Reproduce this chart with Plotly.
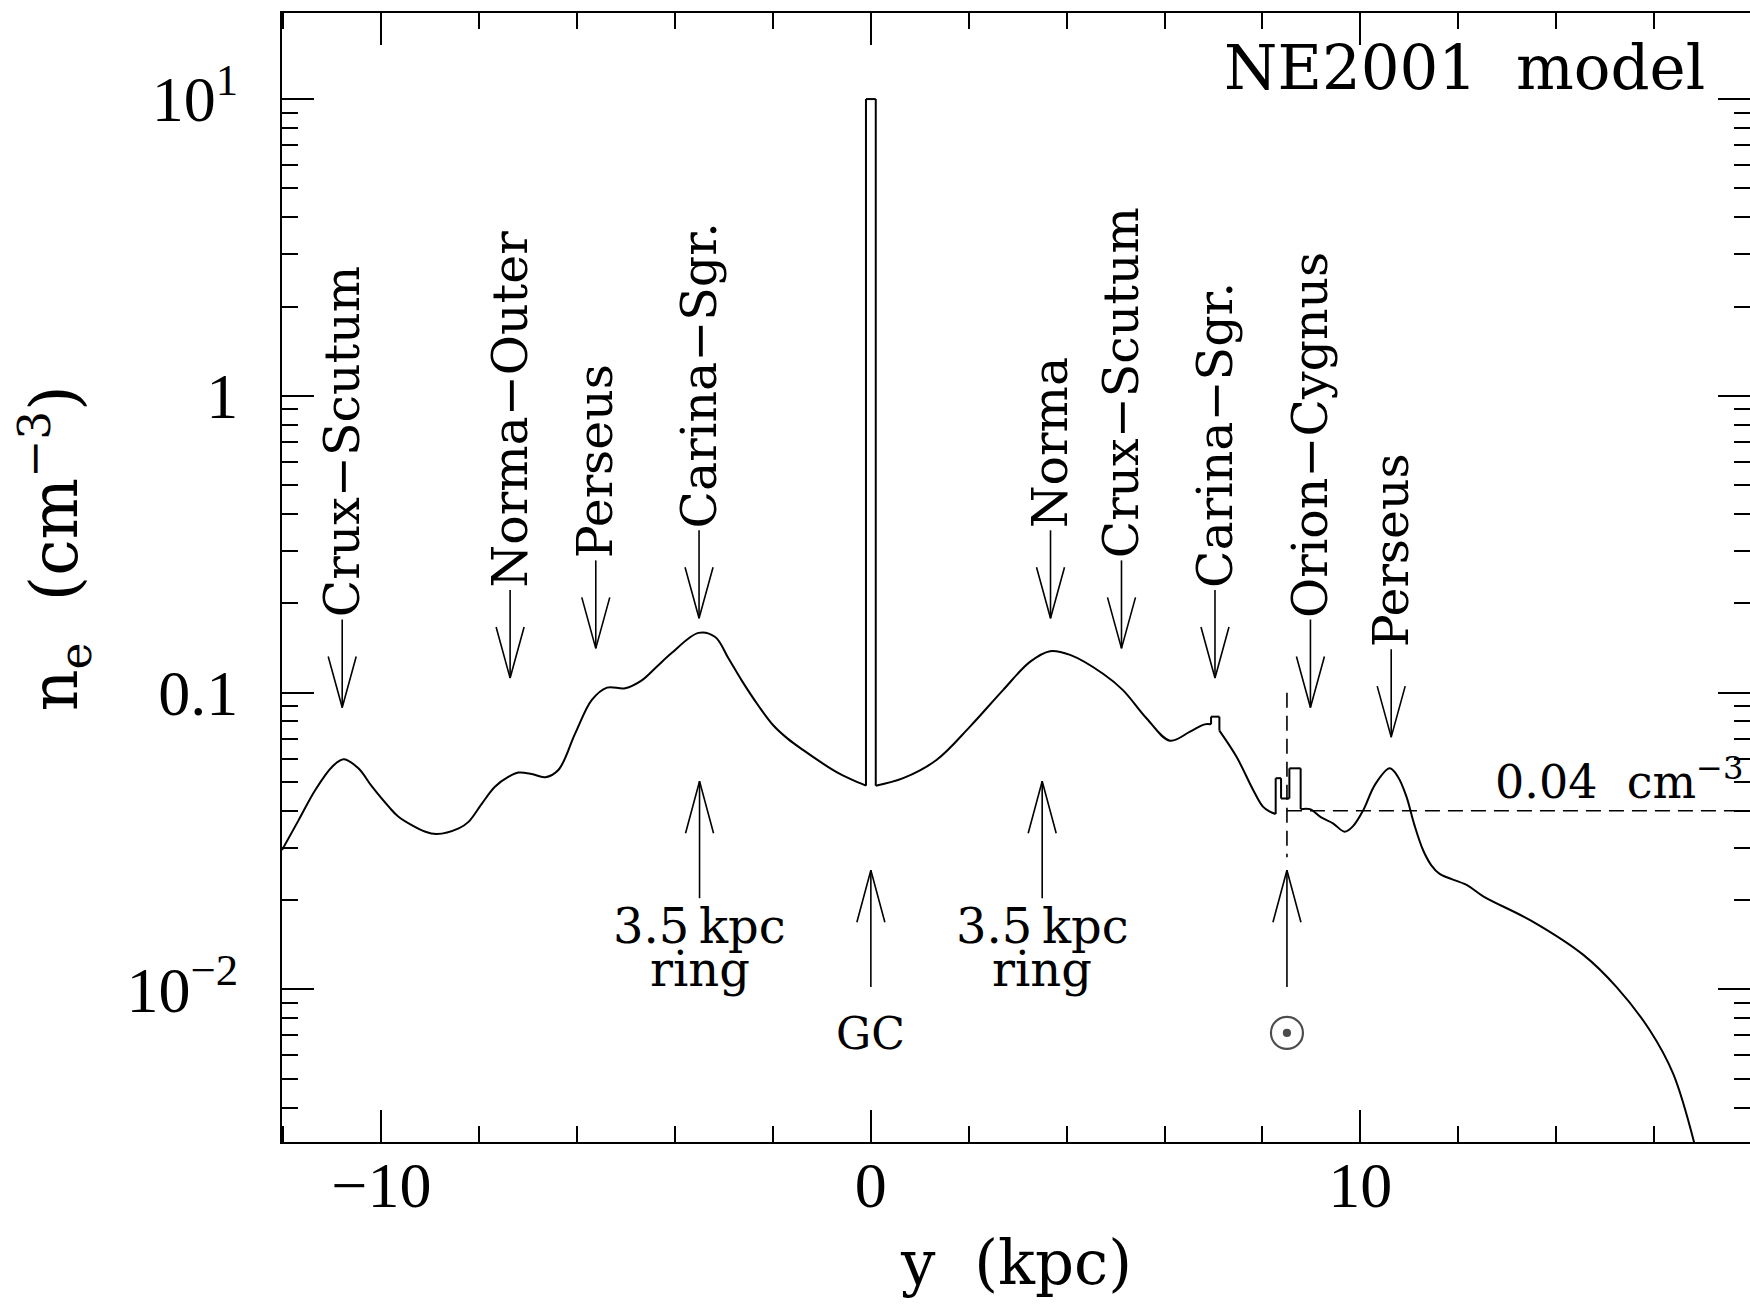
import math
import plotly.graph_objects as go

# ---------------------------------------------------------------------------
# NE2001 electron density along the y axis through the Galactic centre
# ---------------------------------------------------------------------------
y_kpc = [
    -12.03, -11.69, -11.35, -11.00, -10.77, -10.47, -10.19, -9.85, -9.65, -9.10,
    -8.87, -8.42, -8.22, -7.95, -7.68, -7.40, -7.20, -6.93, -6.65, -6.38,
    -6.04, -5.70, -5.39, -5.02, -4.68, -4.37, -4.07, -3.52, -3.18, -2.91,
    -2.64, -2.30, -2.00, -1.70, -1.38, -1.00, -0.70, -0.40, -0.10,
    -0.10, 0.10,
    0.10, 0.66, 1.34, 2.02, 2.70, 3.25, 3.66, 4.07, 4.75, 5.15,
    5.63, 6.11, 6.52, 6.82, 6.95,
    6.95, 7.12,
    7.12, 7.47, 7.81, 8.01, 8.15, 8.27,
    8.27, 8.38,
    8.38, 8.55,
    8.55, 8.78,
    8.78, 8.97, 9.20, 9.44, 9.68, 9.85, 10.06, 10.30, 10.60, 10.77,
    10.94, 11.10, 11.28, 11.45, 11.62, 12.17, 12.51, 13.53, 14.55, 15.23,
    15.91, 16.39, 16.83,
]
n_e = [
    0.0295, 0.0372, 0.0470, 0.0564, 0.0597, 0.0556, 0.0482, 0.0413, 0.0382, 0.0340,
    0.0334, 0.0349, 0.0367, 0.0422, 0.0482, 0.0521, 0.0538, 0.0532, 0.0519, 0.0550,
    0.0729, 0.0945, 0.1040, 0.1035, 0.1100, 0.1225, 0.1360, 0.1590, 0.1540, 0.1306,
    0.1100, 0.0905, 0.0778, 0.0700, 0.0640, 0.0580, 0.0540, 0.0510, 0.0486,
    10.0, 10.0,
    0.0486, 0.0515, 0.0593, 0.0767, 0.1020, 0.1270, 0.1380, 0.1340, 0.1156, 0.1020,
    0.0820, 0.0689, 0.0739, 0.0782, 0.0782,
    0.0830, 0.0830,
    0.0745, 0.0608, 0.0470, 0.0413, 0.0397, 0.0390,
    0.0515, 0.0515,
    0.0440, 0.0440,
    0.0556, 0.0556,
    0.0405, 0.0405, 0.0380, 0.0363, 0.0340, 0.0355, 0.0402, 0.0490, 0.0556, 0.0520,
    0.0447, 0.0360, 0.0295, 0.0262, 0.0245, 0.0225, 0.0206, 0.0169, 0.0131, 0.0102,
    0.0073, 0.0052, 0.0030,
]

# spiral arms crossed by the cut (arrow tips point at the density bumps)
arm_names = ["Crux\u2212Scutum", "Norma\u2212Outer", "Perseus", "Carina\u2212Sgr.",
             "Norma", "Crux\u2212Scutum", "Carina\u2212Sgr.", "Orion\u2212Cygnus", "Perseus"]
arm_y = [-10.80, -7.37, -5.62, -3.51, 3.67, 5.12, 7.03, 8.98, 10.63]
arm_tip = [0.0891, 0.112, 0.141, 0.178, 0.178, 0.141, 0.112, 0.0891, 0.0708]

# other landmarks: 3.5 kpc ring (both sides), Galactic centre, Sun
mark_y = [-3.5, 0.0, 3.5, 8.5]
mark_tip = [0.0503, 0.0252, 0.0503, 0.0252]
mark_base = [0.0203, 0.0102, 0.0203, 0.0102]

R_SUN = 8.5          # kpc
NE_LOCAL = 0.04      # cm^-3, local mean density
SUN_LINE_TOP = 0.1
SUN_LINE_BOTTOM = 0.0279

# axes
X_MIN, X_MAX = -12.03, 17.96
LOGY_MIN, LOGY_MAX = -2.514, 1.290
x_major = [-10, 0, 10]
x_major_text = ["\u221210", "0", "10"]
y_major = [0.01, 0.1, 1, 10]
y_major_text = ["10<sup>\u22122</sup>", "0.1", "1", "10<sup>1</sup>"]
decades = [0.001, 0.01, 0.1, 1, 10]

# ---------------------------------------------------------------------------
W, H = 1750, 1305
M_L, M_R, M_T, M_B = 282, 0, 13, 163
PLOT_W = W - M_L - M_R
PLOT_H = H - M_T - M_B
PX_PER_KPC = PLOT_W / (X_MAX - X_MIN)
PX_PER_DEX = PLOT_H / (LOGY_MAX - LOGY_MIN)

SERIF = "DejaVu Serif"
TICKFONT = "Liberation Serif"
BLACK = "#000000"


def dx(px):
    """horizontal pixel distance -> kpc"""
    return px / PX_PER_KPC


def up(v, px):
    """shift a density value by px pixels upward on the log axis"""
    return v * 10 ** (px / PX_PER_DEX)


fig = go.Figure()

# --- density curve: smooth runs drawn as splines, jumps as straight lines
runs, jumps = [], ([], [])
start = 0
for i in range(1, len(y_kpc)):
    if y_kpc[i] == y_kpc[i - 1]:
        runs.append((start, i))
        jumps[0].extend([y_kpc[i - 1], y_kpc[i], None])
        jumps[1].extend([n_e[i - 1], n_e[i], None])
        start = i
runs.append((start, len(y_kpc)))

for a, b in runs:
    fig.add_trace(go.Scatter(
        x=y_kpc[a:b], y=n_e[a:b], mode="lines",
        line=dict(color=BLACK, width=2, shape="spline", smoothing=1.0),
        hoverinfo="skip", showlegend=False))
fig.add_trace(go.Scatter(
    x=jumps[0], y=jumps[1], mode="lines",
    line=dict(color=BLACK, width=2), hoverinfo="skip", showlegend=False))

# --- reference lines for the Sun's position and the local density
fig.add_trace(go.Scatter(
    x=[R_SUN, R_SUN], y=[SUN_LINE_TOP, SUN_LINE_BOTTOM], mode="lines",
    line=dict(color=BLACK, width=1.6, dash="15px,8px"),
    hoverinfo="skip", showlegend=False))
fig.add_trace(go.Scatter(
    x=[R_SUN, X_MAX], y=[NE_LOCAL, NE_LOCAL], mode="lines",
    line=dict(color=BLACK, width=1.6, dash="15px,8px"),
    hoverinfo="skip", showlegend=False))

# --- arrows
ax_x, ax_y = [], []
for x, tip in zip(arm_y, arm_tip):
    top = up(tip, 88)
    wing = up(tip, 51)
    ax_x += [x, x, None, x - dx(14), x, x + dx(14), None]
    ax_y += [tip, top, None, wing, tip, wing, None]
for x, tip, base in zip(mark_y, mark_tip, mark_base):
    wing = up(tip, -52)
    ax_x += [x, x, None, x - dx(14), x, x + dx(14), None]
    ax_y += [tip, base, None, wing, tip, wing, None]
fig.add_trace(go.Scatter(
    x=ax_x, y=ax_y, mode="lines", line=dict(color=BLACK, width=1.6),
    hoverinfo="skip", showlegend=False))

# --- Sun symbol below its arrow
sun_y = up(mark_base[3], -46)
fig.add_trace(go.Scatter(
    x=[mark_y[3], mark_y[3]], y=[sun_y, sun_y], mode="markers",
    marker=dict(symbol=["circle-open", "circle"], size=[32, 6], color=BLACK,
                line=dict(color=BLACK, width=2.2)),
    hoverinfo="skip", showlegend=False))

# --- labels
ann = []
for name, x, tip in zip(arm_names, arm_y, arm_tip):
    ann.append(dict(x=x, y=math.log10(tip), xref="x", yref="y", text=name,
                    textangle=-90, xanchor="center", yanchor="bottom", yshift=88,
                    showarrow=False, font=dict(family=SERIF, size=49, color=BLACK)))

for x in (mark_y[0], mark_y[2]):
    base = math.log10(mark_base[0])
    ann.append(dict(x=x, y=base, xref="x", yref="y", text="3.5\u2009kpc",
                    xanchor="center", yanchor="top", yshift=2, showarrow=False,
                    font=dict(family=SERIF, size=48, color=BLACK)))
    ann.append(dict(x=x, y=base, xref="x", yref="y", text="ring",
                    xanchor="center", yanchor="top", yshift=-41, showarrow=False,
                    font=dict(family=SERIF, size=48, color=BLACK)))

ann.append(dict(x=mark_y[1], y=math.log10(mark_base[1]), xref="x", yref="y", text="GC",
                xanchor="center", yanchor="top", yshift=-19, showarrow=False,
                font=dict(family=SERIF, size=44, color=BLACK)))

ann.append(dict(x=X_MAX, y=math.log10(NE_LOCAL), xref="x", yref="y",
                text="0.04\u00a0\u00a0cm<sup>\u22123</sup>",
                xanchor="right", yanchor="middle", yshift=32, xshift=-4, showarrow=False,
                font=dict(family=SERIF, size=46, color=BLACK)))

ann.append(dict(x=0.9707, y=0.9513, xref="paper", yref="paper",
                text="NE2001\u00a0\u00a0model", xanchor="right", yanchor="middle",
                showarrow=False, font=dict(family=SERIF, size=61, color=BLACK)))

ann.append(dict(x=0.5, y=-0.107, xref="paper", yref="paper",
                text="y\u00a0\u00a0(kpc)", xanchor="center", yanchor="middle",
                showarrow=False, font=dict(family=SERIF, size=61, color=BLACK)))

ann.append(dict(x=-0.1545, y=0.526, xref="paper", yref="paper",
                text="n<sub>e</sub>\u00a0\u00a0(cm<sup>\u22123</sup>)", textangle=-90,
                xanchor="center", yanchor="middle",
                showarrow=False, font=dict(family=SERIF, size=65, color=BLACK)))

y_minor = [k * d for d in decades for k in range(2, 10)
           if LOGY_MIN < math.log10(k * d) < LOGY_MAX]

axis_common = dict(showgrid=False, zeroline=False, showline=True, linecolor=BLACK,
                   linewidth=2, mirror="allticks", ticks="inside", ticklen=32,
                   tickwidth=2, tickcolor=BLACK,
                   tickfont=dict(family=TICKFONT, size=64, color=BLACK))

fig.update_layout(
    width=W, height=H,
    margin=dict(l=M_L, r=M_R, t=M_T, b=M_B, autoexpand=False),
    paper_bgcolor="white", plot_bgcolor="white",
    showlegend=False,
    xaxis=dict(range=[X_MIN, X_MAX], tickmode="array", tickvals=x_major,
               ticktext=x_major_text, ticklabelstandoff=-14,
               minor=dict(tickmode="linear", tick0=0, dtick=2, ticks="inside",
                          ticklen=16, tickwidth=2, tickcolor=BLACK),
               **axis_common),
    yaxis=dict(type="log", range=[LOGY_MIN, LOGY_MAX], tickmode="array",
               tickvals=y_major, ticktext=y_major_text, ticklabelstandoff=29,
               minor=dict(tickmode="array", tickvals=y_minor, ticks="inside",
                          ticklen=16, tickwidth=2, tickcolor=BLACK),
               **axis_common),
    annotations=ann,
)

fig.write_html("out.html")
